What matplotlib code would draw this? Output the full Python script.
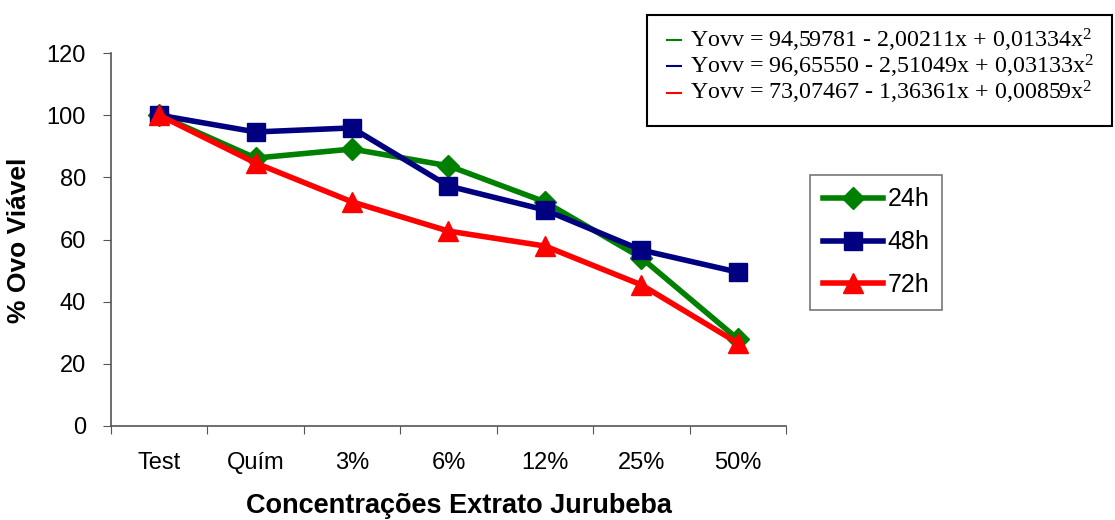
import matplotlib
matplotlib.use("Agg")
import matplotlib.pyplot as plt
from matplotlib.lines import Line2D
from matplotlib.patches import Rectangle

plt.rcParams['font.family'] = ['Liberation Sans', 'DejaVu Sans']
plt.rcParams['mathtext.fontset'] = 'custom'
plt.rcParams['mathtext.rm'] = 'Liberation Serif'
plt.rcParams['mathtext.it'] = 'Liberation Serif:italic'

categories = ["Test", "Quím", "3%", "6%", "12%", "25%", "50%"]
h24 = [100, 86.2, 89.1, 83.7, 72.1, 54.1, 28.0]
h48 = [100, 94.6, 95.9, 77.2, 69.5, 56.6, 49.5]
h72 = [100, 84.6, 72.1, 62.7, 57.9, 45.4, 26.7]
series_names = ["24h", "48h", "72h"]
equations = [
    "Yovv = 94,59781 - 2,00211x + 0,01334x$^2$",
    "Yovv = 96,65550 - 2,51049x + 0,03133x$^2$",
    "Yovv = 73,07467 - 1,36361x + 0,00859x$^2$",
]
colors = ["#008000", "#000080", "#FF0000"]

W, H = 1115, 520
fig = plt.figure(figsize=(W / 100, H / 100), dpi=100)
ax = fig.add_axes([111 / W, 1 - 426 / H, (786 - 111) / W, (426 - 53) / H])

x = list(range(len(categories)))
ax.plot(x, h24, color=colors[0], lw=4, marker="D", ms=11.5, label=series_names[0])
ax.plot(x, h48, color=colors[1], lw=4, marker="s", ms=13, label=series_names[1])
ax.plot(x, h72, color=colors[2], lw=4, marker="^", ms=15, label=series_names[2])

ax.set_xlim(-0.5, len(categories) - 0.5)
ax.set_ylim(0, 120)
ax.set_yticks(range(0, 121, 20))
ax.set_xticks([i - 0.5 for i in range(len(categories) + 1)], minor=False)
ax.set_xticklabels([])
ax.set_xticks(x, minor=True)
ax.set_xticklabels(categories, minor=True)
ax.tick_params(axis='x', which='minor', length=0, pad=19, labelsize=17)
ax.tick_params(axis='x', which='major', length=6, direction='out', color='#555555')
ax.tick_params(axis='y', length=6, direction='out', labelsize=17, pad=12, color='#555555')
for s in ['top', 'right']:
    ax.spines[s].set_visible(False)
for s in ['left', 'bottom']:
    ax.spines[s].set_color('#555555')
    ax.spines[s].set_linewidth(1.2)

ax.set_ylabel("% Ovo Viável", fontsize=19, fontweight='bold', va='center')
ax.yaxis.set_label_coords(19 / W, 1 - 240 / H, transform=fig.transFigure)
ax.set_xlabel("Concentrações Extrato Jurubeba", fontsize=19.5, fontweight='bold', va='center')
ax.xaxis.set_label_coords(459 / W, 1 - 506 / H, transform=fig.transFigure)

leg = ax.legend(loc='upper left', bbox_to_anchor=(810 / W, 1 - 175 / H),
                bbox_transform=fig.transFigure, borderaxespad=0, fontsize=18,
                frameon=True, fancybox=False, edgecolor='#555555',
                handlelength=2.4, labelspacing=0.75, borderpad=0.5, handletextpad=0.2)
leg.get_frame().set_linewidth(1.2)

# equation box
fig.add_artist(Rectangle((647 / W, 1 - 126 / H), (1112 - 647) / W, (126 - 15) / H,
                         transform=fig.transFigure, facecolor='white',
                         edgecolor='black', linewidth=1.5))
baselines = [47, 73, 100]
for eq, c, yb in zip(equations, colors, baselines):
    yd = yb - 7
    fig.add_artist(Line2D([667 / W, 681 / W], [1 - yd / H, 1 - yd / H],
                          transform=fig.transFigure, color=c, lw=1.5))
    fig.text(690 / W, 1 - yb / H, eq, fontsize=17.3, va='baseline', ha='left',
             family='Liberation Serif')

fig.savefig("out.png", dpi=100)
